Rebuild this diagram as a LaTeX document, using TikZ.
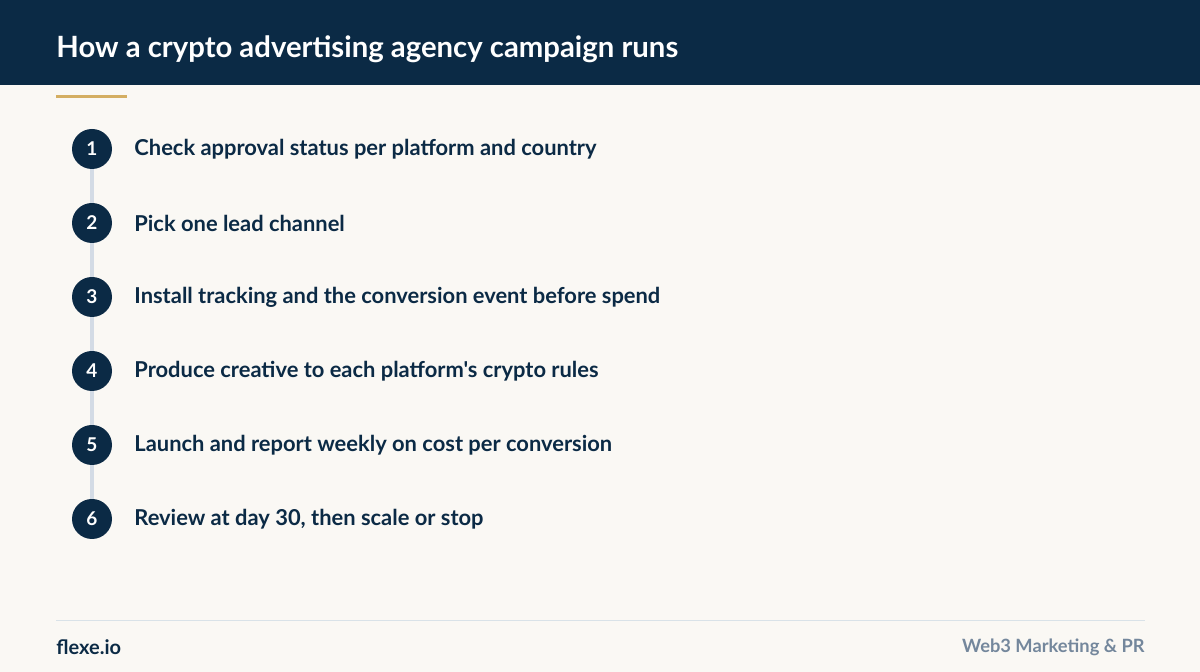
\documentclass[tikz,border=0pt]{standalone}
\usepackage{fontspec}
\setmainfont{Lato}[Ligatures=TeXOff]
\usepackage{tikz}

\definecolor{navy}{HTML}{0B2A45}
\definecolor{ivory}{HTML}{FAF8F4}
\definecolor{gold}{HTML}{D4AE62}
\definecolor{rail}{HTML}{D3DBE5}
\definecolor{rule}{HTML}{D9E2E8}
\definecolor{slate}{HTML}{74879C}

\begin{document}
\begin{tikzpicture}[x=0.5pt, y=-0.5pt]
      \tikzstyle{badge}=[circle, fill=navy, minimum size=20pt, inner sep=0pt, text=white, font=\fontsize{9.5}{10}\selectfont\bfseries]
      \tikzstyle{label}=[anchor=west, text=navy, inner sep=0pt, font=\fontsize{10.95}{12}\selectfont\bfseries]
      \tikzstyle{link}=[draw=rail, line width=2pt]

      % background and header
      \fill[ivory] (0,0) rectangle (1200,672);
      \fill[navy] (0,0) rectangle (1200,85);
      \node[anchor=base west, inner sep=0pt, text=white, font=\fontsize{14.65}{16}\selectfont\bfseries] (title) at (56,58) {How a crypto advertising agency campaign runs};
      \coordinate (goldA) at (56,96.5);
      \coordinate (goldB) at (127,96.5);
      \draw[gold, line width=1.5pt] (goldA) -- (goldB);

      % steps
      \node[badge] (c1) at (92,149) {1};
      \node[badge] (c2) at (92,223) {2};
      \node[badge] (c3) at (92,297) {3};
      \node[badge] (c4) at (92,371) {4};
      \node[badge] (c5) at (92,445) {5};
      \node[badge] (c6) at (92,519) {6};

      \draw[link] (c1) -- (c2);
      \draw[link] (c2) -- (c3);
      \draw[link] (c3) -- (c4);
      \draw[link] (c4) -- (c5);
      \draw[link] (c5) -- (c6);

      \node[label] (t1) at (134,149) {Check approval status per platform and country};
      \node[label] (t2) at (134,223) {Pick one lead channel};
      \node[label] (t3) at (134,297) {Install tracking and the conversion event before spend};
      \node[label] (t4) at (134,371) {Produce creative to each platform's crypto rules};
      \node[label] (t5) at (134,445) {Launch and report weekly on cost per conversion};
      \node[label] (t6) at (134,519) {Review at day 30, then scale or stop};

      % footer
      \coordinate (ruleA) at (56,620.5);
      \coordinate (ruleB) at (1145,620.5);
      \draw[rule, line width=0.6pt] (ruleA) -- (ruleB);
      \node[anchor=west, inner sep=0pt, text=navy, font=\fontsize{10}{12}\selectfont\bfseries] (site) at (56,647) {flexe.io};
      \node[anchor=east, inner sep=0pt, text=slate, font=\fontsize{9.15}{10}\selectfont\bfseries] (tag) at (1145,647) {Web3 Marketing \& PR};
\end{tikzpicture}
\end{document}
